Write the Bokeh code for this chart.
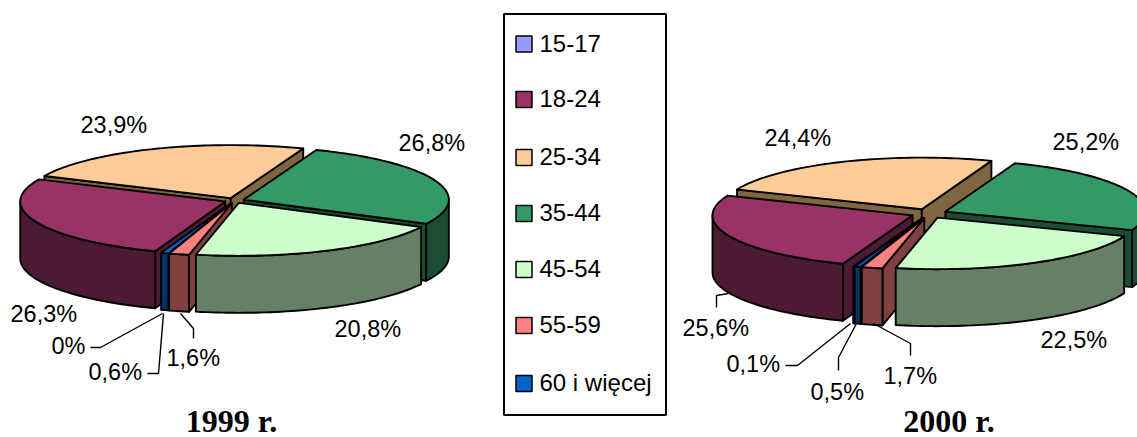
import math
from bokeh.plotting import figure
from bokeh.models import Range1d
from bokeh.core.properties import value
from bokeh.embed import file_html
from bokeh.resources import INLINE

# ---- data ----
categories = ["15-17", "18-24", "25-34", "35-44", "45-54", "55-59", "60 i więcej"]
values_1999 = [0.0, 26.3, 23.9, 26.8, 20.8, 1.6, 0.6]
values_2000 = [0.1, 25.6, 24.4, 25.2, 22.5, 1.7, 0.5]
labels_1999 = ["0%", "26,3%", "23,9%", "26,8%", "20,8%", "1,6%", "0,6%"]
labels_2000 = ["0,1%", "25,6%", "24,4%", "25,2%", "22,5%", "1,7%", "0,5%"]
titles = ["1999 r.", "2000 r."]

# ---- style ----
top_colors = ["#9999FF", "#993366", "#FFCC99", "#339966", "#CCFFCC", "#FF8080", "#0066CC"]
side_colors = ["#4D4D80", "#4D1A33", "#806640", "#1A4D33", "#668066", "#804040", "#003366"]
SANS = value("Liberation Sans")
SERIF = value("Liberation Serif")
LW = 1.9

# back-to-front painting order of the slices
paint_order = [2, 3, 1, 0, 6, 5, 4]

# layout of each pie: centre, radii, depth, explosion
PIE_1999 = dict(cx=234, cy=200, rx=205, ry=53, depth=57, explode=10, start=200)
PIE_2000 = dict(cx=928.5, cy=213, rx=200, ry=51.6, depth=57, explode=18, start=200)

label_xy_1999 = [(51, 345), (10, 313), (80, 124), (398, 142), (334, 328), (166, 357), (88, 371)]
label_xy_2000 = [(726, 363), (682, 327), (764, 137), (1052, 141), (1040, 339), (883, 375), (810, 391)]

leaders_1999 = [
    ([90, 100, 162], [347, 347, 313]),
    ([147, 158, 163], [373, 373, 313]),
    ([193, 193, 180], [338, 328, 313]),
]
leaders_2000 = [
    ([716, 716, 728], [307, 295, 293]),
    ([785, 797, 850], [365, 365, 323]),
    ([838, 838, 856], [370, 357, 323]),
    ([910, 910, 873], [355, 343, 323]),
]

legend_y = [43.5, 99, 157, 213, 269, 325, 383]

# ---- figure: data units are page pixels ----
p = figure(width=1137, height=437, x_range=Range1d(0, 1137), y_range=Range1d(437, 0),
           output_backend="svg", toolbar_location=None, min_border=0,
           background_fill_color="white", border_fill_color="white", outline_line_color=None)
p.axis.visible = False
p.grid.visible = False


def arc(cx, cy, rx, ry, a, b, dy=0.0):
    n = max(2, int(abs(b - a) / 1.5) + 2)
    out = []
    for i in range(n):
        t = math.radians(a + (b - a) * i / (n - 1))
        out.append((cx + rx * math.sin(t), cy - ry * math.cos(t) + dy))
    return out


def draw_pie(vals, g):
    angle = g["start"]
    slices = {}
    for i, v in enumerate(vals):
        sweep = v * 3.6
        if v > 0:
            slices[i] = (angle, angle + sweep)
        angle += sweep

    xs, ys, fills = [], [], []

    def add(points, color):
        xs.append([q[0] for q in points])
        ys.append([q[1] for q in points])
        fills.append(color)

    for i in paint_order:
        if i not in slices:
            continue
        a, b = slices[i]
        mid = math.radians((a + b) / 2)
        cx = g["cx"] + g["explode"] * math.sin(mid)
        cy = g["cy"] - g["explode"] * g["ry"] / g["rx"] * math.cos(mid)
        rx, ry, d = g["rx"], g["ry"], g["depth"]

        # radial cut faces turned to the viewer
        for edge, normal in ((a, a - 90), (b, b + 90)):
            if math.cos(math.radians(normal)) < 0:
                e = arc(cx, cy, rx, ry, edge, edge)[0]
                add([(cx, cy), e, (e[0], e[1] + d), (cx, cy + d)], side_colors[i])

        # outer wall: only the front half of the ellipse
        for k in (-360, 0, 360):
            lo, hi = max(a, 90 + k), min(b, 270 + k)
            if hi > lo:
                upper = arc(cx, cy, rx, ry, lo, hi)
                lower = arc(cx, cy, rx, ry, lo, hi, d)
                add(upper + lower[::-1], side_colors[i])

        # top face
        add([(cx, cy)] + arc(cx, cy, rx, ry, a, b), top_colors[i])

    p.patches(xs, ys, fill_color=fills, line_color="black", line_width=LW, line_join="round")


draw_pie(values_1999, PIE_1999)
draw_pie(values_2000, PIE_2000)

# leader lines
for lx, ly in leaders_1999 + leaders_2000:
    p.line(lx, ly, line_color="black", line_width=1.4)

# data labels
for labs, xy in ((labels_1999, label_xy_1999), (labels_2000, label_xy_2000)):
    p.text([q[0] for q in xy], [q[1] for q in xy], text=labs, text_font=SANS,
           text_font_size="23.5px", text_color="black", text_baseline="middle", text_align="left")

# titles
p.text([231, 948.5], [420, 420], text=titles, text_font=SERIF, text_font_style="bold",
       text_font_size="32px", text_color="black", text_baseline="middle", text_align="center")

# legend
p.quad(left=[503.5], right=[665.5], top=[13.5], bottom=[414.5], fill_color="white",
       line_color="black", line_width=2)
p.quad(left=[515.5] * 7, right=[531.5] * 7,
       top=[y - 8 for y in legend_y], bottom=[y + 8 for y in legend_y],
       fill_color=top_colors, line_color="black", line_width=1.5)
p.text([539] * 7, [y - 1 for y in legend_y], text=categories, text_font=SANS,
       text_font_size="24px", text_color="black", text_baseline="middle", text_align="left")

open("out.html", "w").write(file_html(p, INLINE))
